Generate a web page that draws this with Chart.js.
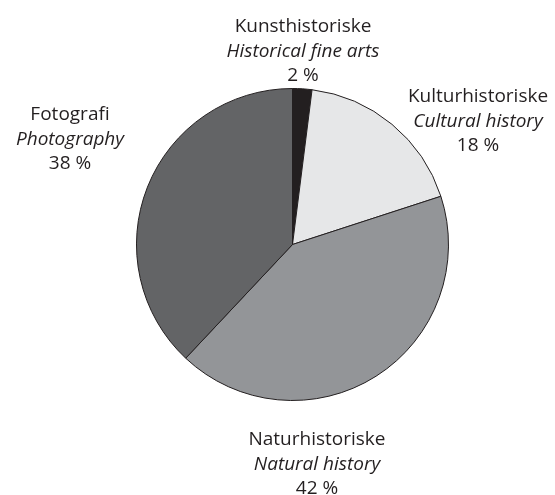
<!DOCTYPE html>
<html>
<head>
<meta charset="utf-8">
<script src="https://cdn.jsdelivr.net/npm/chart.js@4"></script>
<style>
  html, body { margin: 0; padding: 0; background: #fff; }
  #wrap { width: 555px; height: 495px; }
</style>
</head>
<body>
<div id="wrap"><canvas id="pieChart" width="555" height="495"></canvas></div>
<script>
// data
var namesNo = ["Kunsthistoriske", "Kulturhistoriske", "Naturhistoriske", "Fotografi"];
var namesEn = ["Historical fine arts", "Cultural history", "Natural history", "Photography"];
var shares = [2, 18, 42, 38];

var sliceColors = ["#231f20", "#e6e7e8", "#939598", "#636466"];
// label block: centre x, baseline of first line (same order as shares)
var labelPos = [
  [303, 32],
  [478, 102],
  [317, 445],
  [70, 120]
];

var labelPlugin = {
  id: "labels",
  afterDraw: function (chart) {
    var ctx = chart.ctx;
    ctx.save();
    ctx.fillStyle = "#231f20";
    ctx.textAlign = "center";
    ctx.textBaseline = "alphabetic";
    for (var i = 0; i < shares.length; i++) {
      var x = labelPos[i][0];
      var y = labelPos[i][1];
      ctx.font = "19px 'Open Sans'";
      ctx.fillText(namesNo[i], x, y);
      ctx.font = "italic 19px 'Open Sans'";
      ctx.fillText(namesEn[i], x, y + 24.5);
      ctx.font = "19px 'Open Sans'";
      ctx.fillText(shares[i] + " %", x, y + 49);
    }
    ctx.restore();
  }
};

var ctx = document.getElementById("pieChart");
var pieChart = new Chart(ctx, {
  type: "pie",
  data: {
    labels: namesNo,
    datasets: [
      {
        data: shares,
        backgroundColor: sliceColors,
        borderColor: "#231f20",
        borderWidth: 1,
      },
    ],
  },
  options: {
    responsive: false,
    animation: false,
    radius: 156,
    layout: {
      padding: { left: 30, right: 0, top: 0, bottom: 6 },
    },
    plugins: {
      legend: { display: false },
      tooltip: { enabled: false },
    },
  },
  plugins: [labelPlugin],
});
</script>
</body>
</html>
